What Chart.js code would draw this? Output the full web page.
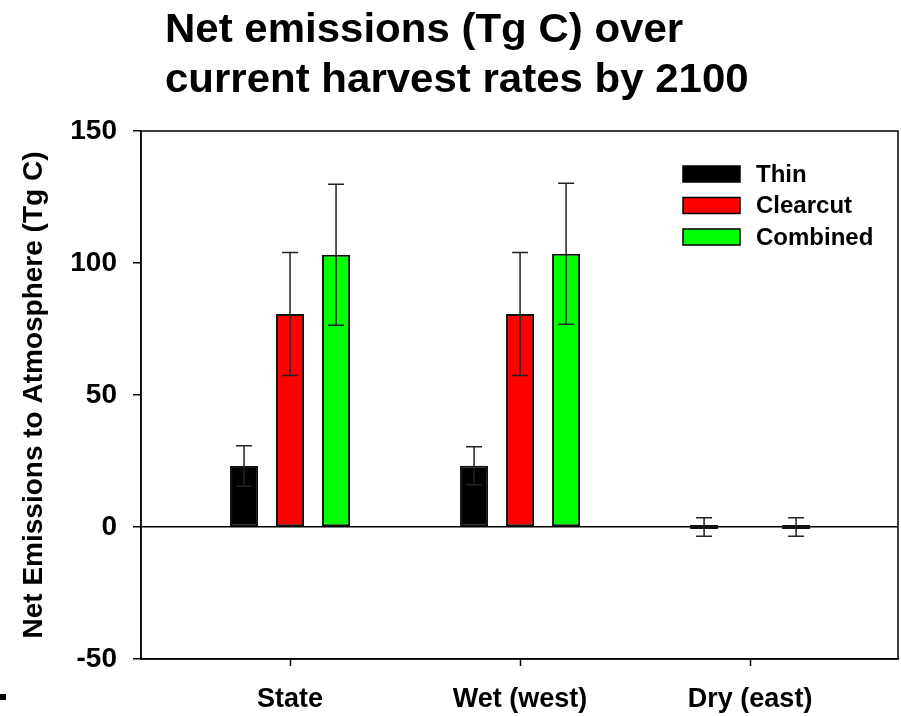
<!DOCTYPE html>
<html>
<head>
<meta charset="utf-8">
<title>Net emissions over current harvest rates by 2100</title>
<script src="https://cdn.jsdelivr.net/npm/chart.js@4/dist/chart.umd.min.js"></script>
<style>
  html, body { margin: 0; padding: 0; background: #fff; }
  #wrap { width: 901px; height: 716px; position: relative; }
</style>
</head>
<body>
<div id="wrap"><canvas id="emissionsChart"></canvas></div>
<script>
// =============== DATA ===============

const categories = ["State", "Wet (west)", "Dry (east)"];

const thinValues = [23.1, 23.2, 0];
const thinErrors = [7.7, 7.2, 3.5];

const clearcutValues = [80.7, 80.7, null];
const clearcutErrors = [23.3, 23.3, null];

const combinedValues = [103.1, 103.5, 0];
const combinedErrors = [26.7, 26.7, 3.5];

const yTicks = [-50, 0, 50, 100, 150];

const titleLines = ["Net emissions (Tg C) over", "current harvest rates by 2100"];


// =============== HELPERS ===============

function toPoints(values) {
  return values.map((v, i) => ({ x: i, y: v }));
}

const FONT = "'Liberation Sans', Arial, sans-serif";


// =============== PLUGINS ===============

// title, drawn at a fixed spot above the plot
const titlePlugin = {
  id: "titleText",
  afterDraw(chart) {
    const ctx = chart.ctx;
    ctx.save();
    ctx.fillStyle = "#000";
    ctx.font = "bold 40px " + FONT;
    ctx.textBaseline = "alphabetic";
    ctx.textAlign = "left";
    ctx.translate(165, 0);
    ctx.scale(1.05, 1);
    ctx.fillText(titleLines[0], 0, 42);
    ctx.fillText(titleLines[1], 0, 92);
    ctx.restore();

    // small mark at the lower left corner
    ctx.save();
    ctx.fillStyle = "#000";
    ctx.fillRect(0, 694, 6, 6);
    ctx.restore();
  },
};

// box round the plot area
const framePlugin = {
  id: "frame",
  afterDraw(chart) {
    const { ctx, chartArea: a } = chart;
    ctx.save();
    ctx.strokeStyle = "#000";
    ctx.lineWidth = 1.5;
    ctx.strokeRect(a.left, a.top, a.right - a.left, a.bottom - a.top);
    ctx.restore();
  },
};

// error bars from the named arrays
const errorBarPlugin = {
  id: "errorBars",
  afterDatasetsDraw(chart) {
    const ctx = chart.ctx;
    const yScale = chart.scales.y;
    ctx.save();
    ctx.strokeStyle = "#222";
    ctx.lineWidth = 1.5;
    chart.data.datasets.forEach((ds, d) => {
      const meta = chart.getDatasetMeta(d);
      meta.data.forEach((bar, i) => {
        const val = ds.data[i].y;
        const err = ds.errors[i];
        if (val == null || err == null) return;
        const x = bar.x;
        const yTop = yScale.getPixelForValue(val + err);
        const yBot = yScale.getPixelForValue(val - err);
        ctx.beginPath();
        ctx.moveTo(x, yTop);
        ctx.lineTo(x, yBot);
        ctx.moveTo(x - 8, yTop);
        ctx.lineTo(x + 8, yTop);
        ctx.moveTo(x - 8, yBot);
        ctx.lineTo(x + 8, yBot);
        ctx.stroke();
      });
    });
    ctx.restore();
  },
};

// legend inside the plot, top right
const legendPlugin = {
  id: "insideLegend",
  afterDraw(chart) {
    const ctx = chart.ctx;
    ctx.save();
    ctx.font = "bold 24px " + FONT;
    ctx.textBaseline = "middle";
    chart.data.datasets.forEach((ds, d) => {
      const cy = 174 + d * 31.5;
      ctx.fillStyle = ds.backgroundColor;
      ctx.fillRect(683, cy - 8, 57, 16);
      ctx.strokeStyle = "#000";
      ctx.lineWidth = 1.5;
      ctx.strokeRect(683, cy - 8, 57, 16);
      ctx.fillStyle = "#000";
      ctx.fillText(ds.label, 756, cy + 1);
    });
    ctx.restore();
  },
};


// =============== CHART ===============

function makeDataset(label, values, errors, color) {
  return {
    label,
    data: toPoints(values),
    errors,
    backgroundColor: color,
    borderColor: "#111",
    borderWidth: 2,
    borderSkipped: false,
    minBarLength: 4,
    categoryPercentage: 0.6,
    barPercentage: 0.61,
  };
}

function loadEmissionsChart() {
  const ctx = document.getElementById("emissionsChart");
  if (!ctx) return;

  new Chart(ctx, {
    type: "bar",
    data: {
      datasets: [
        makeDataset("Thin", thinValues, thinErrors, "#000000"),
        makeDataset("Clearcut", clearcutValues, clearcutErrors, "#ff0000"),
        makeDataset("Combined", combinedValues, combinedErrors, "#00ff00"),
      ],
    },
    options: {
      responsive: true,
      maintainAspectRatio: false,
      animation: false,
      events: [],
      layout: { padding: { top: 131, right: 3, left: 0, bottom: 0 } },
      plugins: {
        legend: { display: false },
        tooltip: { enabled: false },
        title: { display: false },
      },
      scales: {
        x: {
          type: "linear",
          offset: false,
          min: -0.648,
          max: 2.643,
          afterBuildTicks: (scale) => {
            scale.ticks = categories.map((c, i) => ({ value: i }));
          },
          afterFit: (scale) => { scale.height = 57; },
          ticks: {
            autoSkip: false,
            maxRotation: 0,
            padding: 17,
            color: "#000",
            font: { family: FONT, size: 27, weight: "bold" },
            callback: (v) => categories[v] ?? "",
          },
          grid: {
            offset: false,
            drawOnChartArea: false,
            drawTicks: true,
            tickLength: 7,
            tickColor: "#000",
            tickWidth: 1.5,
          },
          border: { display: true, color: "#000", width: 1.5 },
        },
        y: {
          min: yTicks[0],
          max: yTicks[yTicks.length - 1],
          afterBuildTicks: (scale) => {
            scale.ticks = yTicks.map((v) => ({ value: v }));
          },
          afterFit: (scale) => { scale.width = 141; },
          ticks: {
            padding: 16,
            color: "#000",
            font: { family: FONT, size: 28, weight: "bold" },
          },
          grid: {
            color: (c) => (c.tick && c.tick.value === 0 ? "#000" : "rgba(0,0,0,0)"),
            lineWidth: 1.5,
            tickLength: 8,
            tickColor: "#000",
            tickWidth: 1.5,
          },
          border: { display: true, color: "#000", width: 1.5 },
          title: {
            display: true,
            text: "Net Emissions to Atmosphere (Tg C)",
            color: "#000",
            font: { family: FONT, size: 28, weight: "bold" },
            padding: { top: 17, bottom: 0 },
          },
        },
      },
    },
    plugins: [framePlugin, errorBarPlugin, legendPlugin, titlePlugin],
  });
}


// =============== INIT ===============

document.addEventListener("DOMContentLoaded", () => {
  loadEmissionsChart();
});
</script>
</body>
</html>
